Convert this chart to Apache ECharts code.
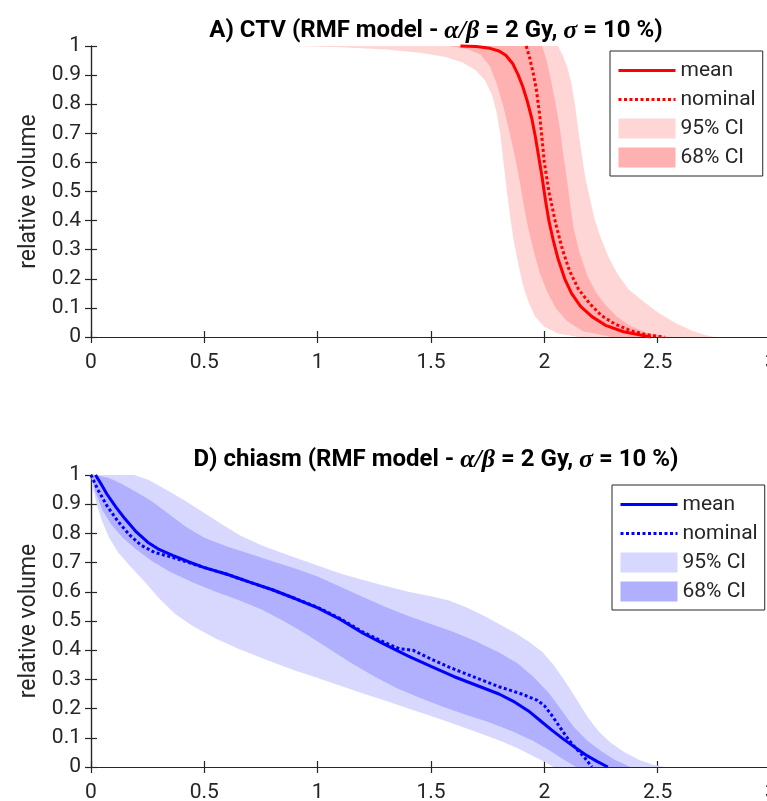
<!DOCTYPE html>
<html>
<head>
<meta charset="utf-8">
<script src="https://cdn.jsdelivr.net/npm/echarts@6/dist/echarts.min.js"></script>
<style>
html,body{margin:0;padding:0;background:#fff;}
#chartTop{position:absolute;left:0;top:0;width:767px;height:429px;}
#chartBot{position:absolute;left:0;top:429px;width:767px;height:372px;}
</style>
</head>
<body>
<div id="chartTop"></div>
<div id="chartBot"></div>
<script>
// ---------- data (dose [Gy] , relative volume) ----------
var xTicks = [0, 0.5, 1, 1.5, 2, 2.5, 3];
var yTicks = [0, 0.1, 0.2, 0.3, 0.4, 0.5, 0.6, 0.7, 0.8, 0.9, 1];
var legendNames = ['mean', 'nominal', '95% CI', '68% CI'];

// A) CTV
var ctvMean = [[1.63,1],[1.70,0.998],[1.76,0.992],[1.80,0.983],[1.83,0.968],[1.86,0.94],[1.885,0.9],[1.905,0.86],[1.925,0.81],[1.945,0.75],[1.96,0.69],[1.975,0.62],[1.99,0.55],[2.005,0.47],[2.02,0.4],[2.04,0.33],[2.06,0.27],[2.09,0.2],[2.12,0.15],[2.16,0.105],[2.21,0.07],[2.27,0.04],[2.35,0.018],[2.47,0]];
var ctvNominal = [[1.92,1],[1.935,0.96],[1.95,0.91],[1.965,0.85],[1.98,0.76],[1.99,0.68],[2.0,0.6],[2.02,0.5],[2.05,0.39],[2.08,0.3],[2.11,0.23],[2.15,0.165],[2.2,0.115],[2.25,0.075],[2.31,0.045],[2.38,0.022],[2.45,0.008],[2.53,0]];
var ctvLow95 = [[0.9,1],[1.1,0.996],[1.3,0.988],[1.45,0.977],[1.56,0.963],[1.64,0.943],[1.7,0.915],[1.74,0.88],[1.77,0.83],[1.79,0.77],[1.805,0.7],[1.82,0.6],[1.835,0.5],[1.85,0.41],[1.865,0.33],[1.885,0.25],[1.905,0.18],[1.93,0.12],[1.96,0.07],[2.0,0.035],[2.06,0.012],[2.15,0]];
var ctvUp95 = [[2.06,1],[2.08,0.97],[2.1,0.93],[2.12,0.87],[2.135,0.8],[2.15,0.71],[2.165,0.63],[2.18,0.55],[2.2,0.48],[2.22,0.41],[2.245,0.35],[2.28,0.28],[2.32,0.22],[2.37,0.165],[2.44,0.12],[2.51,0.08],[2.58,0.047],[2.65,0.022],[2.71,0.007],[2.75,0]];
var ctvLow68 = [[1.58,1],[1.66,0.99],[1.72,0.97],[1.76,0.93],[1.79,0.87],[1.82,0.79],[1.845,0.71],[1.87,0.62],[1.89,0.54],[1.91,0.45],[1.93,0.37],[1.955,0.29],[1.98,0.22],[2.01,0.16],[2.05,0.1],[2.1,0.055],[2.17,0.02],[2.3,0]];
var ctvUp68 = [[1.99,1],[2.01,0.95],[2.03,0.88],[2.05,0.8],[2.07,0.71],[2.085,0.62],[2.1,0.54],[2.115,0.45],[2.13,0.37],[2.155,0.29],[2.19,0.21],[2.23,0.15],[2.27,0.11],[2.32,0.07],[2.38,0.038],[2.45,0.015],[2.55,0]];

// D) chiasm
var chMean = [[0.02,1],[0.04,0.975],[0.07,0.935],[0.11,0.89],[0.15,0.85],[0.2,0.805],[0.25,0.77],[0.3,0.745],[0.36,0.725],[0.43,0.703],[0.5,0.683],[0.6,0.66],[0.7,0.633],[0.8,0.607],[0.9,0.577],[1.0,0.545],[1.1,0.505],[1.2,0.458],[1.3,0.418],[1.4,0.38],[1.5,0.345],[1.6,0.31],[1.7,0.28],[1.8,0.25],[1.87,0.222],[1.93,0.192],[1.98,0.16],[2.03,0.128],[2.08,0.098],[2.13,0.07],[2.18,0.043],[2.23,0.02],[2.28,0]];
var chNominal = [[0,1],[0.03,0.95],[0.07,0.895],[0.12,0.84],[0.17,0.795],[0.22,0.76],[0.28,0.735],[0.35,0.72],[0.42,0.703],[0.5,0.683],[0.6,0.66],[0.7,0.633],[0.8,0.607],[0.9,0.577],[1.0,0.547],[1.1,0.508],[1.2,0.462],[1.3,0.425],[1.36,0.405],[1.42,0.4],[1.5,0.37],[1.58,0.342],[1.7,0.305],[1.8,0.275],[1.9,0.25],[1.97,0.228],[2.0,0.21],[2.03,0.18],[2.07,0.135],[2.11,0.09],[2.15,0.055],[2.18,0.03],[2.21,0]];
var chLow95 = [[0,1],[0.01,0.95],[0.025,0.9],[0.05,0.84],[0.08,0.785],[0.12,0.735],[0.17,0.69],[0.23,0.64],[0.3,0.578],[0.37,0.525],[0.45,0.482],[0.55,0.44],[0.65,0.405],[0.77,0.368],[0.89,0.333],[1.0,0.305],[1.1,0.278],[1.2,0.252],[1.3,0.227],[1.4,0.2],[1.5,0.175],[1.6,0.148],[1.7,0.12],[1.8,0.092],[1.88,0.065],[1.95,0.038],[2.0,0.018],[2.04,0]];
var chUp95 = [[0,1],[0.19,1],[0.25,0.985],[0.32,0.955],[0.41,0.914],[0.5,0.87],[0.58,0.83],[0.66,0.792],[0.76,0.757],[0.89,0.72],[1.0,0.69],[1.1,0.663],[1.2,0.64],[1.3,0.62],[1.4,0.6],[1.5,0.585],[1.58,0.57],[1.66,0.545],[1.74,0.515],[1.8,0.49],[1.87,0.46],[1.93,0.43],[1.99,0.395],[2.04,0.35],[2.09,0.295],[2.14,0.235],[2.19,0.172],[2.24,0.122],[2.29,0.085],[2.35,0.052],[2.42,0.024],[2.48,0.008],[2.53,0]];
var chLow68 = [[0,1],[0.02,0.94],[0.05,0.88],[0.09,0.83],[0.14,0.785],[0.2,0.745],[0.27,0.705],[0.35,0.668],[0.45,0.632],[0.55,0.6],[0.65,0.572],[0.75,0.54],[0.85,0.5],[0.95,0.455],[1.05,0.405],[1.15,0.355],[1.25,0.31],[1.35,0.27],[1.45,0.237],[1.55,0.207],[1.65,0.18],[1.75,0.155],[1.85,0.125],[1.95,0.09],[2.02,0.058],[2.08,0.028],[2.14,0]];
var chUp68 = [[0,1],[0.04,0.997],[0.08,0.99],[0.13,0.972],[0.18,0.95],[0.26,0.914],[0.34,0.868],[0.42,0.822],[0.5,0.785],[0.6,0.755],[0.7,0.73],[0.8,0.705],[0.9,0.68],[1.0,0.652],[1.1,0.617],[1.2,0.582],[1.3,0.548],[1.4,0.517],[1.5,0.49],[1.6,0.462],[1.7,0.43],[1.8,0.392],[1.88,0.356],[1.95,0.31],[2.02,0.253],[2.08,0.19],[2.13,0.137],[2.19,0.09],[2.25,0.055],[2.31,0.025],[2.38,0]];

// ---------- styling ----------
var FONT = 'Roboto';
var AX = '#262626';

function bandRender(low, up, color) {
  return function (params, api) {
    var pts = [];
    for (var i = 0; i < low.length; i++) pts.push(api.coord(low[i]));
    for (var j = up.length - 1; j >= 0; j--) pts.push(api.coord(up[j]));
    return { type: 'polygon', shape: { points: pts }, style: { fill: color } };
  };
}

function makeOption(cfg) {
  var axisLine = { show: true, lineStyle: { color: AX, width: 1.2 } };
  var tick = { show: true, inside: true, length: 6, lineStyle: { color: AX, width: 1.2 } };
  return {
    animation: false,
    backgroundColor: '#fff',
    title: {
      left: 431, top: 13, textAlign: 'center',
      text: cfg.titleHead + '{m|α/β}{b| = 2 Gy, }{m|σ}{b| = 10 %)}',
      textStyle: {
        rich: {
          b: { fontFamily: FONT, fontWeight: 'bold', fontSize: 24, color: '#000' },
          m: { fontFamily: 'Liberation Serif', fontStyle: 'italic', fontSize: 26, color: '#000' }
        }
      }
    },
    grid: { left: 91, top: 46, width: 680, height: cfg.gridH, outerBoundsMode: 'none', containLabel: false },
    legend: {
      orient: 'vertical', left: cfg.legLeft, top: cfg.legTop,
      itemWidth: 57, itemHeight: 20, itemGap: 8,
      padding: [9, 7, 8, 7],
      borderColor: AX, borderWidth: 1, backgroundColor: '#fff',
      selectedMode: false,
      textStyle: { fontFamily: FONT, fontSize: 21, color: AX },
      lineStyle: { width: 'inherit' },
      data: [
        { name: legendNames[0], itemStyle: { opacity: 0 } },
        { name: legendNames[1], itemStyle: { opacity: 0 } },
        { name: legendNames[2], icon: 'rect' },
        { name: legendNames[3], icon: 'rect' }
      ]
    },
    xAxis: [
      { type: 'value', min: xTicks[0], max: xTicks[xTicks.length - 1], interval: 0.5,
        axisLine: axisLine, axisTick: tick, splitLine: { show: false },
        axisLabel: { margin: 15, fontFamily: FONT, fontSize: 21, color: AX, hideOverlap: false } },
      { type: 'value', position: 'top', min: xTicks[0], max: xTicks[xTicks.length - 1], interval: 0.5,
        axisLine: axisLine, axisTick: tick, splitLine: { show: false }, axisLabel: { show: false } }
    ],
    yAxis: [
      { type: 'value', min: yTicks[0], max: yTicks[yTicks.length - 1], interval: 0.1,
        axisLine: axisLine, axisTick: tick, splitLine: { show: false },
        axisLabel: { margin: 10, fontFamily: FONT, fontSize: 21, color: AX },
        name: 'relative volume', nameLocation: 'middle', nameGap: 46,
        nameTextStyle: { fontFamily: FONT, fontSize: 23, color: AX } },
      { type: 'value', position: 'right', min: yTicks[0], max: yTicks[yTicks.length - 1], interval: 0.1,
        axisLine: axisLine, axisTick: tick, splitLine: { show: false }, axisLabel: { show: false } }
    ],
    series: [
      { name: legendNames[2], type: 'custom', renderItem: bandRender(cfg.low95, cfg.up95, cfg.c95),
        data: [[0, 0]], itemStyle: { color: cfg.c95 }, silent: true, z: 2 },
      { name: legendNames[3], type: 'custom', renderItem: bandRender(cfg.low68, cfg.up68, cfg.c68),
        data: [[0, 0]], itemStyle: { color: cfg.c68 }, silent: true, z: 3 },
      { name: legendNames[0], type: 'line', data: cfg.mean, symbol: 'none', clip: false, z: 4,
        itemStyle: { color: cfg.line }, lineStyle: { color: cfg.line, width: 3 } },
      { name: legendNames[1], type: 'line', data: cfg.nominal, symbol: 'none', clip: false, z: 5,
        itemStyle: { color: cfg.line }, lineStyle: { color: cfg.line, width: 3, type: [3, 2.5] } }
    ]
  };
}

var chartTop = echarts.init(document.getElementById('chartTop'), null, { renderer: 'canvas' });
chartTop.setOption(makeOption({
  titleHead: '{b|A) CTV (RMF model - }',
  gridH: 291, legLeft: 610, legTop: 51,
  low95: ctvLow95, up95: ctvUp95, low68: ctvLow68, up68: ctvUp68,
  mean: ctvMean, nominal: ctvNominal,
  c95: '#FFD6D6', c68: '#FFB0B0', line: '#FF0000'
}));

var chartBot = echarts.init(document.getElementById('chartBot'), null, { renderer: 'canvas' });
chartBot.setOption(makeOption({
  titleHead: '{b|D) chiasm (RMF model - }',
  gridH: 292, legLeft: 612, legTop: 56,
  low95: chLow95, up95: chUp95, low68: chLow68, up68: chUp68,
  mean: chMean, nominal: chNominal,
  c95: '#D8D8FF', c68: '#B0B0FF', line: '#0000FF'
}));
</script>
</body>
</html>
